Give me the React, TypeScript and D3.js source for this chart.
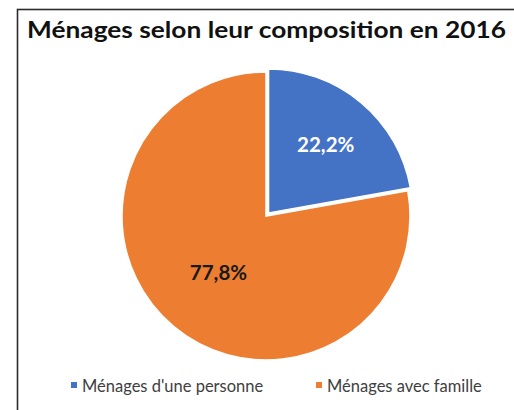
import React from "react";
import * as d3 from "d3";

const categories = ["Ménages d'une personne", "Ménages avec famille"];
const values = [22.2, 77.8];
const labels = ["22,2%", "77,8%"];
const colors = ["#4472C4", "#ED7D31"];
const labelColors = ["#FFFFFF", "#1a1a1a"];
const title = "Ménages selon leur composition en 2016";

export default function App() {
  const W = 514, H = 410;
  const cx = 266, cy = 216, r = 144;
  const pie = d3.pie<number>().sort(null).value((d) => d)(values);
  const arc = d3.arc<d3.PieArcDatum<number>>().innerRadius(0).outerRadius(r);
  const explode = [4, 0];
  const labelR = [89, 74];
  const font = "Lato, 'Open Sans', sans-serif";
  const legendX = [71, 316];
  return (
    <svg width={W} height={H} style={{ position: "absolute", left: 0, top: 0, background: "#fff" }}>
      <rect x={17.5} y={9.5} width={W + 10} height={H + 10} fill="#fff" stroke="#2b2b2b" strokeWidth={1.6} />
      <text x={27} y={38} fontFamily={font} fontWeight={700} fontSize={22} fill="#111" textLength={479} lengthAdjust="spacingAndGlyphs">
        {title}
      </text>
      <g transform={`translate(${cx},${cy})`}>
        {pie.map((p, i) => {
          const mid = (p.startAngle + p.endAngle) / 2;
          const dx = Math.sin(mid) * explode[i];
          const dy = -Math.cos(mid) * explode[i];
          const lab = d3.arc<d3.PieArcDatum<number>>().innerRadius(labelR[i]).outerRadius(labelR[i]).centroid(p);
          return (
            <g key={i} transform={`translate(${dx},${dy})`}>
              <path d={arc(p) || ""} fill={colors[i]} stroke="#fff" strokeWidth={1.5} />
              <text x={lab[0]} y={lab[1]} dy="0.35em" textAnchor="middle" fontFamily={font} fontWeight={700} fontSize={20.5} fill={labelColors[i]}>
                {labels[i]}
              </text>
            </g>
          );
        })}
      </g>
      {categories.map((c, i) => (
        <g key={c}>
          <rect x={legendX[i]} y={382} width={6} height={6} fill={colors[i]} />
          <text x={legendX[i] + 11} y={391.5} fontFamily={font} fontSize={16.5} fill="#404040">
            {c}
          </text>
        </g>
      ))}
    </svg>
  );
}
